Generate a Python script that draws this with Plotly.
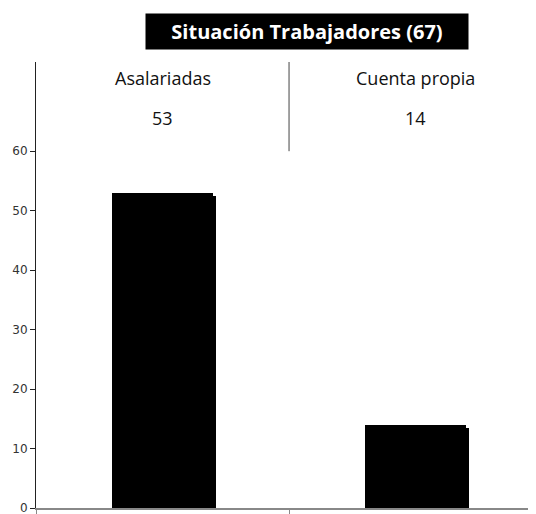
import plotly.graph_objects as go

categories = ["Asalariadas", "Cuenta propia"]
values = [53, 14]
title_text = "Situación Trabajadores (67)"
y_ticks = [0, 10, 20, 30, 40, 50, 60]

fig = go.Figure()

# shadow bars (slightly offset right/down)
fig.add_trace(go.Bar(
    x=categories, y=[v - 0.5 for v in values],
    width=0.4, offset=-0.188, marker=dict(color="black", line=dict(width=0)),
    hoverinfo="skip", showlegend=False,
))
fig.add_trace(go.Bar(
    x=categories, y=values,
    width=0.4, offset=-0.2, marker=dict(color="black", line=dict(width=0)),
    showlegend=False,
))

annotations = []
for c, v in zip(categories, values):
    annotations.append(dict(x=c, y=72.3, xref="x", yref="y", text=c, showarrow=False,
                            font=dict(family="Open Sans", size=18, color="#111")))
    annotations.append(dict(x=c, y=65.6, xref="x", yref="y", text=str(v), showarrow=False,
                            font=dict(family="Open Sans", size=18, color="#111")))
annotations.append(dict(x=0.542, y=1.068, xref="paper", yref="paper", text="<b>" + title_text + "</b>",
                        showarrow=False, bgcolor="black", width=320, height=33,
                        xanchor="center", yanchor="middle",
                        font=dict(family="Open Sans", size=20, color="white")))

fig.update_layout(
    width=528, height=514,
    margin=dict(l=28, r=0, t=54, b=14),
    plot_bgcolor="white", paper_bgcolor="white",
    barmode="overlay",
    bargap=0,
    annotations=annotations,
    shapes=[dict(type="line", xref="x", yref="y", x0=0.5, x1=0.5, y0=60, y1=75,
                 line=dict(color="#444", width=1))],
    xaxis=dict(
        type="category", range=[-0.5, 1.476], showticklabels=False,
        showline=True, linecolor="#888", linewidth=1.5,
        ticks="outside", tickson="boundaries", ticklen=6, tickcolor="#888",
        showgrid=False, zeroline=False,
    ),
    yaxis=dict(
        range=[0, 75], tickvals=y_ticks, showline=True, linecolor="#222", linewidth=1,
        ticks="outside", ticklen=5, tickcolor="#222", showgrid=False, zeroline=False,
        tickfont=dict(family="DejaVu Sans", size=12, color="#333"),
    ),
)

fig.write_html("out.html")
